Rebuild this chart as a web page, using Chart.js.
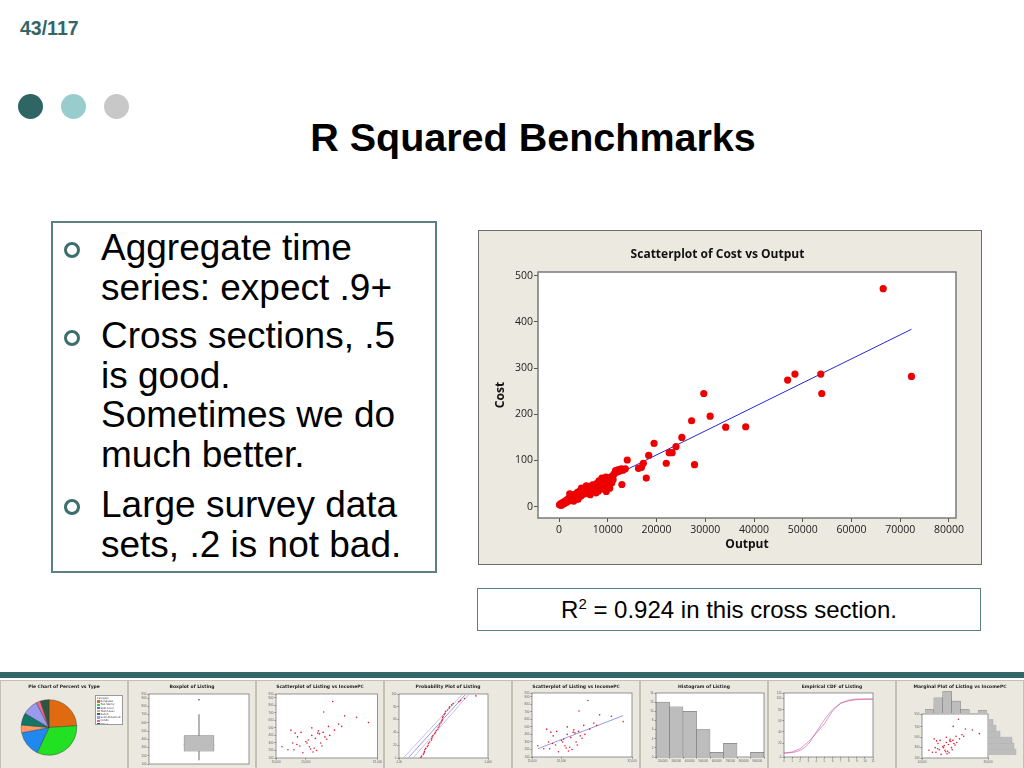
<!DOCTYPE html>
<html>
<head>
<meta charset="utf-8">
<script src="https://cdn.jsdelivr.net/npm/chart.js@4.4.1/dist/chart.umd.min.js"></script>
<style>
  body { margin: 0; width: 1024px; height: 768px; background: #fff; position: relative; overflow: hidden; font-family: "Liberation Sans", Arial, sans-serif; }
  .abs { position: absolute; }
  #pageNum { left: 20px; top: 17px; font-size: 19.5px; font-weight: bold; color: #336666; }
  .dot { position: absolute; top: 94px; width: 25px; height: 25px; border-radius: 50%; }
  #title { left: 0; width: 1066px; top: 115px; text-align: center; font-size: 39.5px; font-weight: bold; color: #000; }
  #textBox { left: 51px; top: 221px; width: 382px; height: 348px; border: 2px solid #5b8080; }
  .para { position: absolute; left: 48px; font-size: 37px; line-height: 39.5px; color: #000; white-space: nowrap; }
  .bullet { position: absolute; left: -37px; top: 14px; width: 10px; height: 10px; border: 3.5px solid #3d6e6e; border-radius: 50%; }
  #chartBox { left: 478px; top: 230px; width: 502px; height: 333px; background: #ece9e0; border: 1px solid #6e6e6e; }
  #r2Box { left: 477px; top: 588px; width: 502px; height: 41px; border: 1.5px solid #5b8080; text-align: center; font-size: 24px; line-height: 41px; }
  #band { left: 0; top: 672px; width: 1024px; height: 6px; background: #336666; }
  .thumb { position: absolute; top: 680px; width: 126px; height: 87px; background: #ebe8df; border: 1px solid #c4c0b4; }
  .thumb canvas { position: absolute; left: 0; top: 0; }
  .tTitle { position: absolute; left: 0; width: 126px; top: 3px; text-align: center; font-family: "DejaVu Sans"; font-size: 4.5px; font-weight: bold; color: #222; white-space: nowrap; }
  #pieLegend { position: absolute; left: 94px; top: 14px; width: 28px; height: 30px; background: #fff; border: 0.5px solid #999; font-family: "DejaVu Sans"; font-size: 2.6px; line-height: 3.2px; color: #333; padding: 1px; box-sizing: border-box; white-space: nowrap; overflow: hidden; }
  #pieLegend i { display: inline-block; width: 2.5px; height: 2.2px; margin-right: 1px; vertical-align: middle; }
</style>
</head>
<body>
<div id="pageNum" class="abs">43/117</div>
<div class="dot" style="left:18px;background:#2f6565"></div>
<div class="dot" style="left:61px;background:#99cccc"></div>
<div class="dot" style="left:104px;background:#c8c8c8"></div>
<div id="title" class="abs">R Squared Benchmarks</div>

<div id="textBox" class="abs">
  <div class="para" style="top:5px"><div class="bullet"></div>Aggregate time<br>series: expect .9+</div>
  <div class="para" style="top:93px"><div class="bullet"></div>Cross sections, .5<br>is good.<br>Sometimes we do<br>much better.</div>
  <div class="para" style="top:262px"><div class="bullet"></div>Large survey data<br>sets, .2 is not bad.</div>
</div>

<div id="chartBox" class="abs"><canvas id="main" width="502" height="333"></canvas></div>
<div id="r2Box" class="abs">R<sup style="font-size:15px;line-height:0">2</sup> = 0.924 in this cross section.</div>

<div id="band" class="abs"></div>
<div class="thumb" style="left:0px"><canvas id="t1" width="126" height="87"></canvas><div class="tTitle">Pie Chart of Percent vs Type</div><div id="pieLegend"></div></div>
<div class="thumb" style="left:128px"><canvas id="t2" width="126" height="87"></canvas><div class="tTitle">Boxplot of Listing</div></div>
<div class="thumb" style="left:256px"><canvas id="t3" width="126" height="87"></canvas><div class="tTitle">Scatterplot of Listing vs IncomePC</div></div>
<div class="thumb" style="left:384px"><canvas id="t4" width="126" height="87"></canvas><div class="tTitle">Probability Plot of Listing</div></div>
<div class="thumb" style="left:512px"><canvas id="t5" width="126" height="87"></canvas><div class="tTitle">Scatterplot of Listing vs IncomePC</div></div>
<div class="thumb" style="left:640px"><canvas id="t6" width="126" height="87"></canvas><div class="tTitle">Histogram of Listing</div></div>
<div class="thumb" style="left:768px"><canvas id="t7" width="126" height="87"></canvas><div class="tTitle">Empirical CDF of Listing</div></div>
<div class="thumb" style="left:896px"><canvas id="t8" width="126" height="87"></canvas><div class="tTitle">Marginal Plot of Listing vs IncomePC</div></div>

<script>
// main scatter: Cost vs Output
var outputX = [100, 300, 500, 600, 800, 900, 1100, 1300, 1500, 1600,
  1800, 2000, 2100, 2300, 2500, 2700, 2800, 3000, 3100, 3300,
  3500, 3600, 3800, 4000, 4200, 4300, 4500, 4700, 4900, 5100,
  5300, 5500, 5700, 5900, 6100, 6300, 6500, 6700, 6900, 7100,
  7300, 7500, 7700, 7900, 8100, 8300, 8500, 8700, 8900, 9100,
  9300, 9500, 9700, 9900, 10100, 10300, 10500, 10700, 10900, 11100,
  11300, 11600, 11900, 12200, 12500, 12800, 13100, 13600, 12900, 10800,
  2200, 3900, 4600, 5600, 6400, 7600, 8200, 8800, 9600, 10400,
  14000, 16300, 16900, 17300, 17900, 18400, 19500, 22000, 22600, 23200,
  24000, 25200, 27200, 27800, 29700, 31000, 34200, 38300, 46900, 48400,
  53700, 53900, 66500, 72300];
var costY = [4, 6, 3, 8, 5, 10, 7, 12, 9, 15,
  11, 18, 14, 21, 16, 24, 19, 12, 26, 22,
  28, 20, 31, 25, 33, 28, 23, 36, 30, 27,
  38, 33, 41, 29, 36, 44, 38, 33, 47, 41,
  36, 45, 50, 40, 34, 48, 53, 44, 57, 50,
  38, 60, 33, 55, 63, 47, 58, 52, 66, 59,
  71, 78, 75, 80, 77, 82, 79, 82, 48, 51,
  28, 16, 40, 45, 26, 30, 56, 62, 64, 40,
  101, 83, 85, 94, 62, 111, 137, 94, 117, 117,
  130, 150, 186, 91, 245, 196, 172, 173, 274, 287,
  287, 245, 472, 282];
// fitted line end points
var fitX = [100, 72300];
var fitY = [8.5, 384];
var xTicks = [0, 10000, 20000, 30000, 40000, 50000, 60000, 70000, 80000];
var yTicks = [0, 100, 200, 300, 400, 500];

// thumbnails
var pieLabels = ['Bungalow', 'Two Storey', 'Split Level', 'Townhouse', 'Ranch', 'Semi-Detached', 'Condo', 'Other'];
var pieValues = [24, 33, 15, 4.5, 7, 9, 2.5, 5];
var pieColors = ['#e06a10', '#22e022', '#2088ee', '#ff9966', '#117766', '#9a9af0', '#ee6688', '#2f5540'];

var boxStats = { low: 150, q1: 255, med: 330, q3: 445, high: 700, out: 880 };

var incomePC = [16000, 17000, 17500, 17800, 18000, 18200, 18500, 18600, 19000, 19200,
  19500, 20000, 20200, 20400, 20600, 20800, 21000, 21000, 21200, 21400,
  21600, 21800, 22000, 22100, 22300, 22500, 22700, 22900, 23000, 23200,
  23500, 23800, 24000, 24500, 24800, 25500, 26000, 26500, 28500, 30500];
var listing = [250, 210, 470, 300, 210, 430, 280, 380, 260, 440,
  170, 320, 300, 340, 250, 220, 400, 500, 180, 230,
  360, 200, 430, 460, 420, 300, 260, 440, 710, 380,
  350, 520, 400, 850, 470, 550, 520, 660, 640, 570];
var listFitX = [16000, 30500];
var listFitY = [210, 650];

var probX = [170, 180, 200, 210, 215, 220, 230, 250, 260, 265, 280, 300, 305, 310, 320, 340, 350, 360, 380, 385,
  400, 405, 420, 430, 435, 440, 445, 460, 470, 475, 500, 520, 525, 550, 570, 640, 660, 710, 850];
var probY = [1, 3, 6, 8, 10, 13, 15, 18, 20, 23, 25, 28, 30, 33, 35, 38, 40, 43, 45, 48,
  50, 53, 55, 58, 60, 63, 65, 68, 70, 73, 75, 78, 80, 83, 85, 88, 90, 93, 97];
var probFitX = [20, 720];
var probFitY = [1, 99];
var probLoX = [80, 760];
var probHiX = [-40, 680];

var histLabels = ['200000', '300000', '400000', '500000', '600000', '700000', '800000', '900000'];
var histCounts = [12, 11, 10, 6, 1, 3, 0, 1];

var cdfLabels = ['0', '1', '2', '3', '4', '5', '6', '7', '8', '9', '10', '11'];
var cdfEmp = [2, 4, 10, 22, 38, 55, 78, 92, 96, 98, 99, 99];
var cdfNorm = [2, 3, 7, 18, 40, 62, 80, 91, 97, 99, 99, 99];

var margTop = [10, 45, 63, 35, 10, 0, 7];
var margRight = [28, 26, 24, 12, 8, 5];

// white plot area + frame, minitab style
var framePlugin = {
  id: 'frame',
  beforeDraw: function(chart) {
    var a = chart.chartArea, c = chart.ctx;
    c.save();
    c.fillStyle = '#ffffff';
    c.fillRect(a.left, a.top, a.right - a.left, a.bottom - a.top);
    c.restore();
  },
  afterDraw: function(chart) {
    var a = chart.chartArea, c = chart.ctx;
    c.save();
    c.strokeStyle = '#7a7a7a';
    c.lineWidth = chart.canvas.id == 'main' ? 1.5 : 0.8;
    c.strokeRect(a.left, a.top, a.right - a.left, a.bottom - a.top);
    c.restore();
  }
};

var pts = outputX.map(function(x, i) { return { x: x, y: costY[i] }; });
var fit = fitX.map(function(x, i) { return { x: x, y: fitY[i] }; });

new Chart(document.getElementById('main'), {
  type: 'scatter',
  data: {
    datasets: [
      { data: pts, backgroundColor: '#ee0000', borderWidth: 0, pointRadius: 3.6, pointHoverRadius: 3.6 },
      { data: fit, showLine: true, borderColor: '#2828d8', borderWidth: 1, pointRadius: 0, fill: false }
    ]
  },
  plugins: [framePlugin],
  options: {
    responsive: false,
    animation: false,
    layout: { padding: { left: 0, right: 25, top: 0, bottom: 0 } },
    plugins: {
      legend: { display: false },
      tooltip: { enabled: false },
      title: {
        display: true, text: 'Scatterplot of Cost vs Output', color: '#111',
        font: { family: 'Open Sans', size: 12, weight: 'bold' },
        padding: { top: 16.6, bottom: 10 }
      }
    },
    scales: {
      x: {
        type: 'linear', min: -4308, max: 81436,
        afterFit: function(s) { s.height = 46; },
        afterBuildTicks: function(s) { s.ticks = xTicks.map(function(v) { return { value: v }; }); },
        ticks: { color: '#222', padding: 2, maxRotation: 0, autoSkip: false, font: { family: 'Open Sans', size: 10.5 },
          callback: function(v) { return String(v); } },
        grid: { drawOnChartArea: false, tickLength: 4, color: '#555' },
        border: { display: false },
        title: { display: true, text: 'Output', color: '#111', font: { family: 'Open Sans', size: 12, weight: 'bold' }, padding: { top: 0, bottom: 11.8 } }
      },
      y: {
        min: -24.5, max: 508,
        afterFit: function(s) { s.width = 59; },
        afterBuildTicks: function(s) { s.ticks = yTicks.map(function(v) { return { value: v }; }); },
        ticks: { color: '#222', padding: 1, autoSkip: false, font: { family: 'Open Sans', size: 10.5 },
          callback: function(v) { return String(v); } },
        grid: { drawOnChartArea: false, tickLength: 4, color: '#555' },
        border: { display: false },
        title: { display: true, text: 'Cost', color: '#111', font: { family: 'Open Sans', size: 12, weight: 'bold' }, padding: { top: 14, bottom: 0 } }
      }
    }
  }
});

// thumbnail helpers
var W = 126, H = 87;
function tinyAxis(extra, fitSize, isY) {
  var ax = {
    ticks: { color: '#666', font: { size: 3 }, padding: 1, maxRotation: 0 },
    grid: { drawOnChartArea: false, tickLength: 1.5, color: '#888' },
    border: { display: false },
    afterFit: function(s) { if (isY) s.width = fitSize; else s.height = fitSize; }
  };
  for (var k in extra) ax[k] = extra[k];
  return ax;
}
function thumb(id, type, data, r, xAx, yAx) {
  return new Chart(document.getElementById(id), {
    type: type,
    data: data,
    plugins: [framePlugin],
    options: {
      responsive: false, animation: false,
      layout: { padding: { left: r[0] - 12, top: r[1], right: W - r[2], bottom: H - r[3] - 7 } },
      plugins: { legend: { display: false }, tooltip: { enabled: false } },
      scales: { x: tinyAxis(xAx, 7, false), y: tinyAxis(yAx, 12, true) }
    }
  });
}
function xy(xs, ys) { return xs.map(function(x, i) { return { x: x, y: ys[i] }; }); }

// 1 pie
new Chart(document.getElementById('t1'), {
  type: 'pie',
  data: { labels: pieLabels, datasets: [{ data: pieValues, backgroundColor: pieColors, borderColor: '#333', borderWidth: 0.4 }] },
  options: {
    responsive: false, animation: false,
    layout: { padding: { left: 20, top: 18, right: 50, bottom: 12 } },
    plugins: { legend: { display: false }, tooltip: { enabled: false } }
  }
});
var legendHtml = 'Category<br>';
pieLabels.forEach(function(l, i) { legendHtml += '<i style="background:' + pieColors[i] + '"></i>' + l + '<br>'; });
document.getElementById('pieLegend').innerHTML = legendHtml;

// 2 boxplot
new Chart(document.getElementById('t2'), {
  type: 'bar',
  data: {
    labels: ['Listing'],
    datasets: [
      { data: [[boxStats.low, boxStats.q1]], backgroundColor: '#888', barThickness: 0.6 },
      { data: [[boxStats.q3, boxStats.high]], backgroundColor: '#888', barThickness: 0.6 },
      { data: [[boxStats.q1, boxStats.q3]], backgroundColor: '#bdbdbd', borderColor: '#777', borderWidth: 0.6, borderSkipped: false, barThickness: 30 },
      { data: [[boxStats.med - 1.5, boxStats.med + 1.5]], backgroundColor: '#777', barThickness: 30 },
      { type: 'line', data: [boxStats.out], showLine: false, pointRadius: 0.8, backgroundColor: '#444', borderWidth: 0 }
    ]
  },
  plugins: [framePlugin],
  options: {
    responsive: false, animation: false,
    datasets: { bar: { grouped: false } },
    layout: { padding: { left: 20 - 12, top: 13, right: W - 120, bottom: H - 83 } },
    plugins: { legend: { display: false }, tooltip: { enabled: false } },
    scales: {
      x: { display: false },
      y: tinyAxis({ min: 100, max: 950 }, 12, true)
    }
  }
});

// 3 scatter
thumb('t3', 'scatter', { datasets: [{ data: xy(incomePC, listing), backgroundColor: '#e02030', pointRadius: 0.8, borderWidth: 0 }] },
  [19, 13, 121, 77], { min: 15000, max: 32000 }, { min: 100, max: 950 });

// 4 probability plot
thumb('t4', 'scatter', { datasets: [
  { data: xy(probX, probY), backgroundColor: '#e02030', pointRadius: 0.8, borderWidth: 0 },
  { data: xy(probFitX, probFitY), showLine: true, borderColor: '#3030c0', borderWidth: 0.5, pointRadius: 0 },
  { data: xy(probLoX, probFitY), showLine: true, borderColor: '#6060d0', borderWidth: 0.4, pointRadius: 0 },
  { data: xy(probHiX, probFitY), showLine: true, borderColor: '#6060d0', borderWidth: 0.4, pointRadius: 0 }
] }, [14, 13, 103, 77], { min: -100, max: 1000 }, { min: 0, max: 100 });

// 5 scatter with fit
thumb('t5', 'scatter', { datasets: [
  { data: xy(incomePC, listing), backgroundColor: '#e02030', pointRadius: 0.8, borderWidth: 0 },
  { data: xy(listFitX, listFitY), showLine: true, borderColor: '#3030c0', borderWidth: 0.5, pointRadius: 0 }
] }, [19, 12, 119, 76], { min: 15000, max: 32000 }, { min: 100, max: 950 });

// 6 histogram
thumb('t6', 'bar', { labels: histLabels, datasets: [{ data: histCounts, backgroundColor: '#bdbdbd', borderColor: '#666', borderWidth: 0.5, barPercentage: 1, categoryPercentage: 1 }] },
  [15, 12, 123, 76], {}, { min: 0, max: 14 });

// 7 empirical cdf
thumb('t7', 'line', { labels: cdfLabels, datasets: [
  { data: cdfEmp, borderColor: '#e03060', borderWidth: 0.5, pointRadius: 0 },
  { data: cdfNorm, borderColor: '#9040c0', borderWidth: 0.5, pointRadius: 0, tension: 0.3 }
] }, [15, 12, 104, 76], {}, { min: -5, max: 110 });

// 8 marginal plot (scatter part)
thumb('t8', 'scatter', { datasets: [{ data: xy(incomePC, listing), backgroundColor: '#e02030', pointRadius: 0.8, borderWidth: 0 }] },
  [25, 33, 91, 77], { min: 14000, max: 33000 }, { min: 100, max: 950 });
</script>
<canvas id="t8top" width="62" height="22" style="position:absolute;left:925px;top:691px"></canvas>
<canvas id="t8right" width="30" height="36" style="position:absolute;left:988px;top:719px"></canvas>
<script>
new Chart(document.getElementById('t8top'), {
  type: 'bar',
  data: { labels: margTop.map(function(v, i) { return 'b' + i; }), datasets: [{ data: margTop, backgroundColor: '#bdbdbd', borderColor: '#666', borderWidth: 0.4, barPercentage: 1, categoryPercentage: 1 }] },
  options: { responsive: false, animation: false, plugins: { legend: { display: false }, tooltip: { enabled: false } },
    scales: { x: { display: false }, y: { display: false, min: 0, max: 65 } } }
});
new Chart(document.getElementById('t8right'), {
  type: 'bar',
  data: { labels: margRight.map(function(v, i) { return 'r' + i; }), datasets: [{ data: margRight, backgroundColor: '#bdbdbd', borderColor: '#666', borderWidth: 0.4, barPercentage: 1, categoryPercentage: 1 }] },
  options: { indexAxis: 'y', responsive: false, animation: false, plugins: { legend: { display: false }, tooltip: { enabled: false } },
    scales: { x: { display: false, min: 0, max: 30 }, y: { display: false, reverse: true } } }
});
</script>
</body>
</html>
